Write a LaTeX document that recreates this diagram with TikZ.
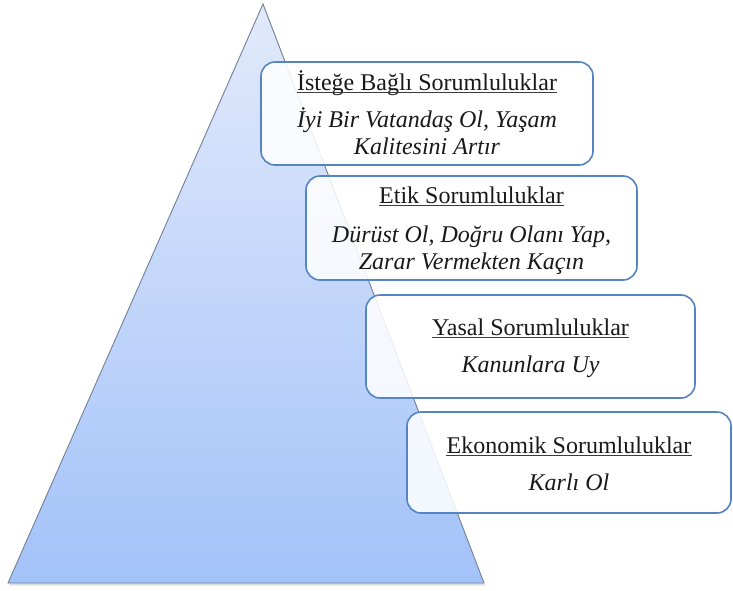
\documentclass[tikz,border=0pt]{standalone}
\usepackage{fontspec}
\setmainfont{Liberation Serif}
\usetikzlibrary{shadows}
\definecolor{pyrtop}{RGB}{226,234,251}
\definecolor{pyrbot}{RGB}{163,194,249}
\definecolor{pyredge}{RGB}{112,128,150}
\definecolor{boxedge}{RGB}{84,132,194}
\definecolor{ink}{RGB}{25,25,25}
\tikzset{
  pyramid/.style={draw=pyredge, line width=0.9pt, top color=pyrtop, bottom color=pyrbot,
    drop shadow={shadow xshift=1pt, shadow yshift=-2.5pt, opacity=0.25}},
  card/.style={draw=boxedge, line width=1.6pt, rounded corners=14pt, fill=white,
    fill opacity=0.86, inner sep=0pt},
  head/.style={anchor=base, inner sep=0pt, text=ink, font=\fontsize{24}{27}\selectfont},
  body/.style={anchor=base, inner sep=0pt, text=ink, font=\fontsize{24}{27}\selectfont\itshape},
  uline/.style={draw=ink!85, line width=0.9pt}
}
\begin{document}
\begin{tikzpicture}[x=1pt, y=-1pt]
  \useasboundingbox (0,0) rectangle (733,590);
  % pyramid
  \path[pyramid] (263,4) -- (484,583) -- (8,583) -- cycle;

  % level cards
  \node[card, minimum width=332pt, minimum height=103pt] (b1) at (427,113.5) {};
  \node[card, minimum width=331pt, minimum height=104pt] (b2) at (471.5,228) {};
  \node[card, minimum width=329pt, minimum height=103pt] (b3) at (530.5,346.5) {};
  \node[card, minimum width=324pt, minimum height=101pt] (b4) at (569,462.5) {};

  % discretionary
  \node[head] (t1a) at (427,90) {İsteğe Bağlı Sorumluluklar};
  \node[body] (t1b) at (427,127) {İyi Bir Vatandaş Ol, Yaşam};
  \node[body] (t1c) at (427,154) {Kalitesini Artır};
  % ethical
  \node[head] (t2a) at (471.5,203) {Etik Sorumluluklar};
  \node[body] (t2b) at (471.5,242) {Dürüst Ol, Doğru Olanı Yap,};
  \node[body] (t2c) at (471.5,269) {Zarar Vermekten Kaçın};
  % legal
  \node[head] (t3a) at (530.5,335) {Yasal Sorumluluklar};
  \node[body] (t3b) at (530.5,372) {Kanunlara Uy};
  % economic
  \node[head] (t4a) at (569,453) {Ekonomik Sorumluluklar};
  \node[body] (t4b) at (569,490) {Karlı Ol};

  % underlines of the headings
  \foreach \t in {t1a,t2a,t3a,t4a}
    \draw[uline] ([yshift=-2.6pt]\t.base west) -- ([yshift=-2.6pt]\t.base east);
\end{tikzpicture}
\end{document}
